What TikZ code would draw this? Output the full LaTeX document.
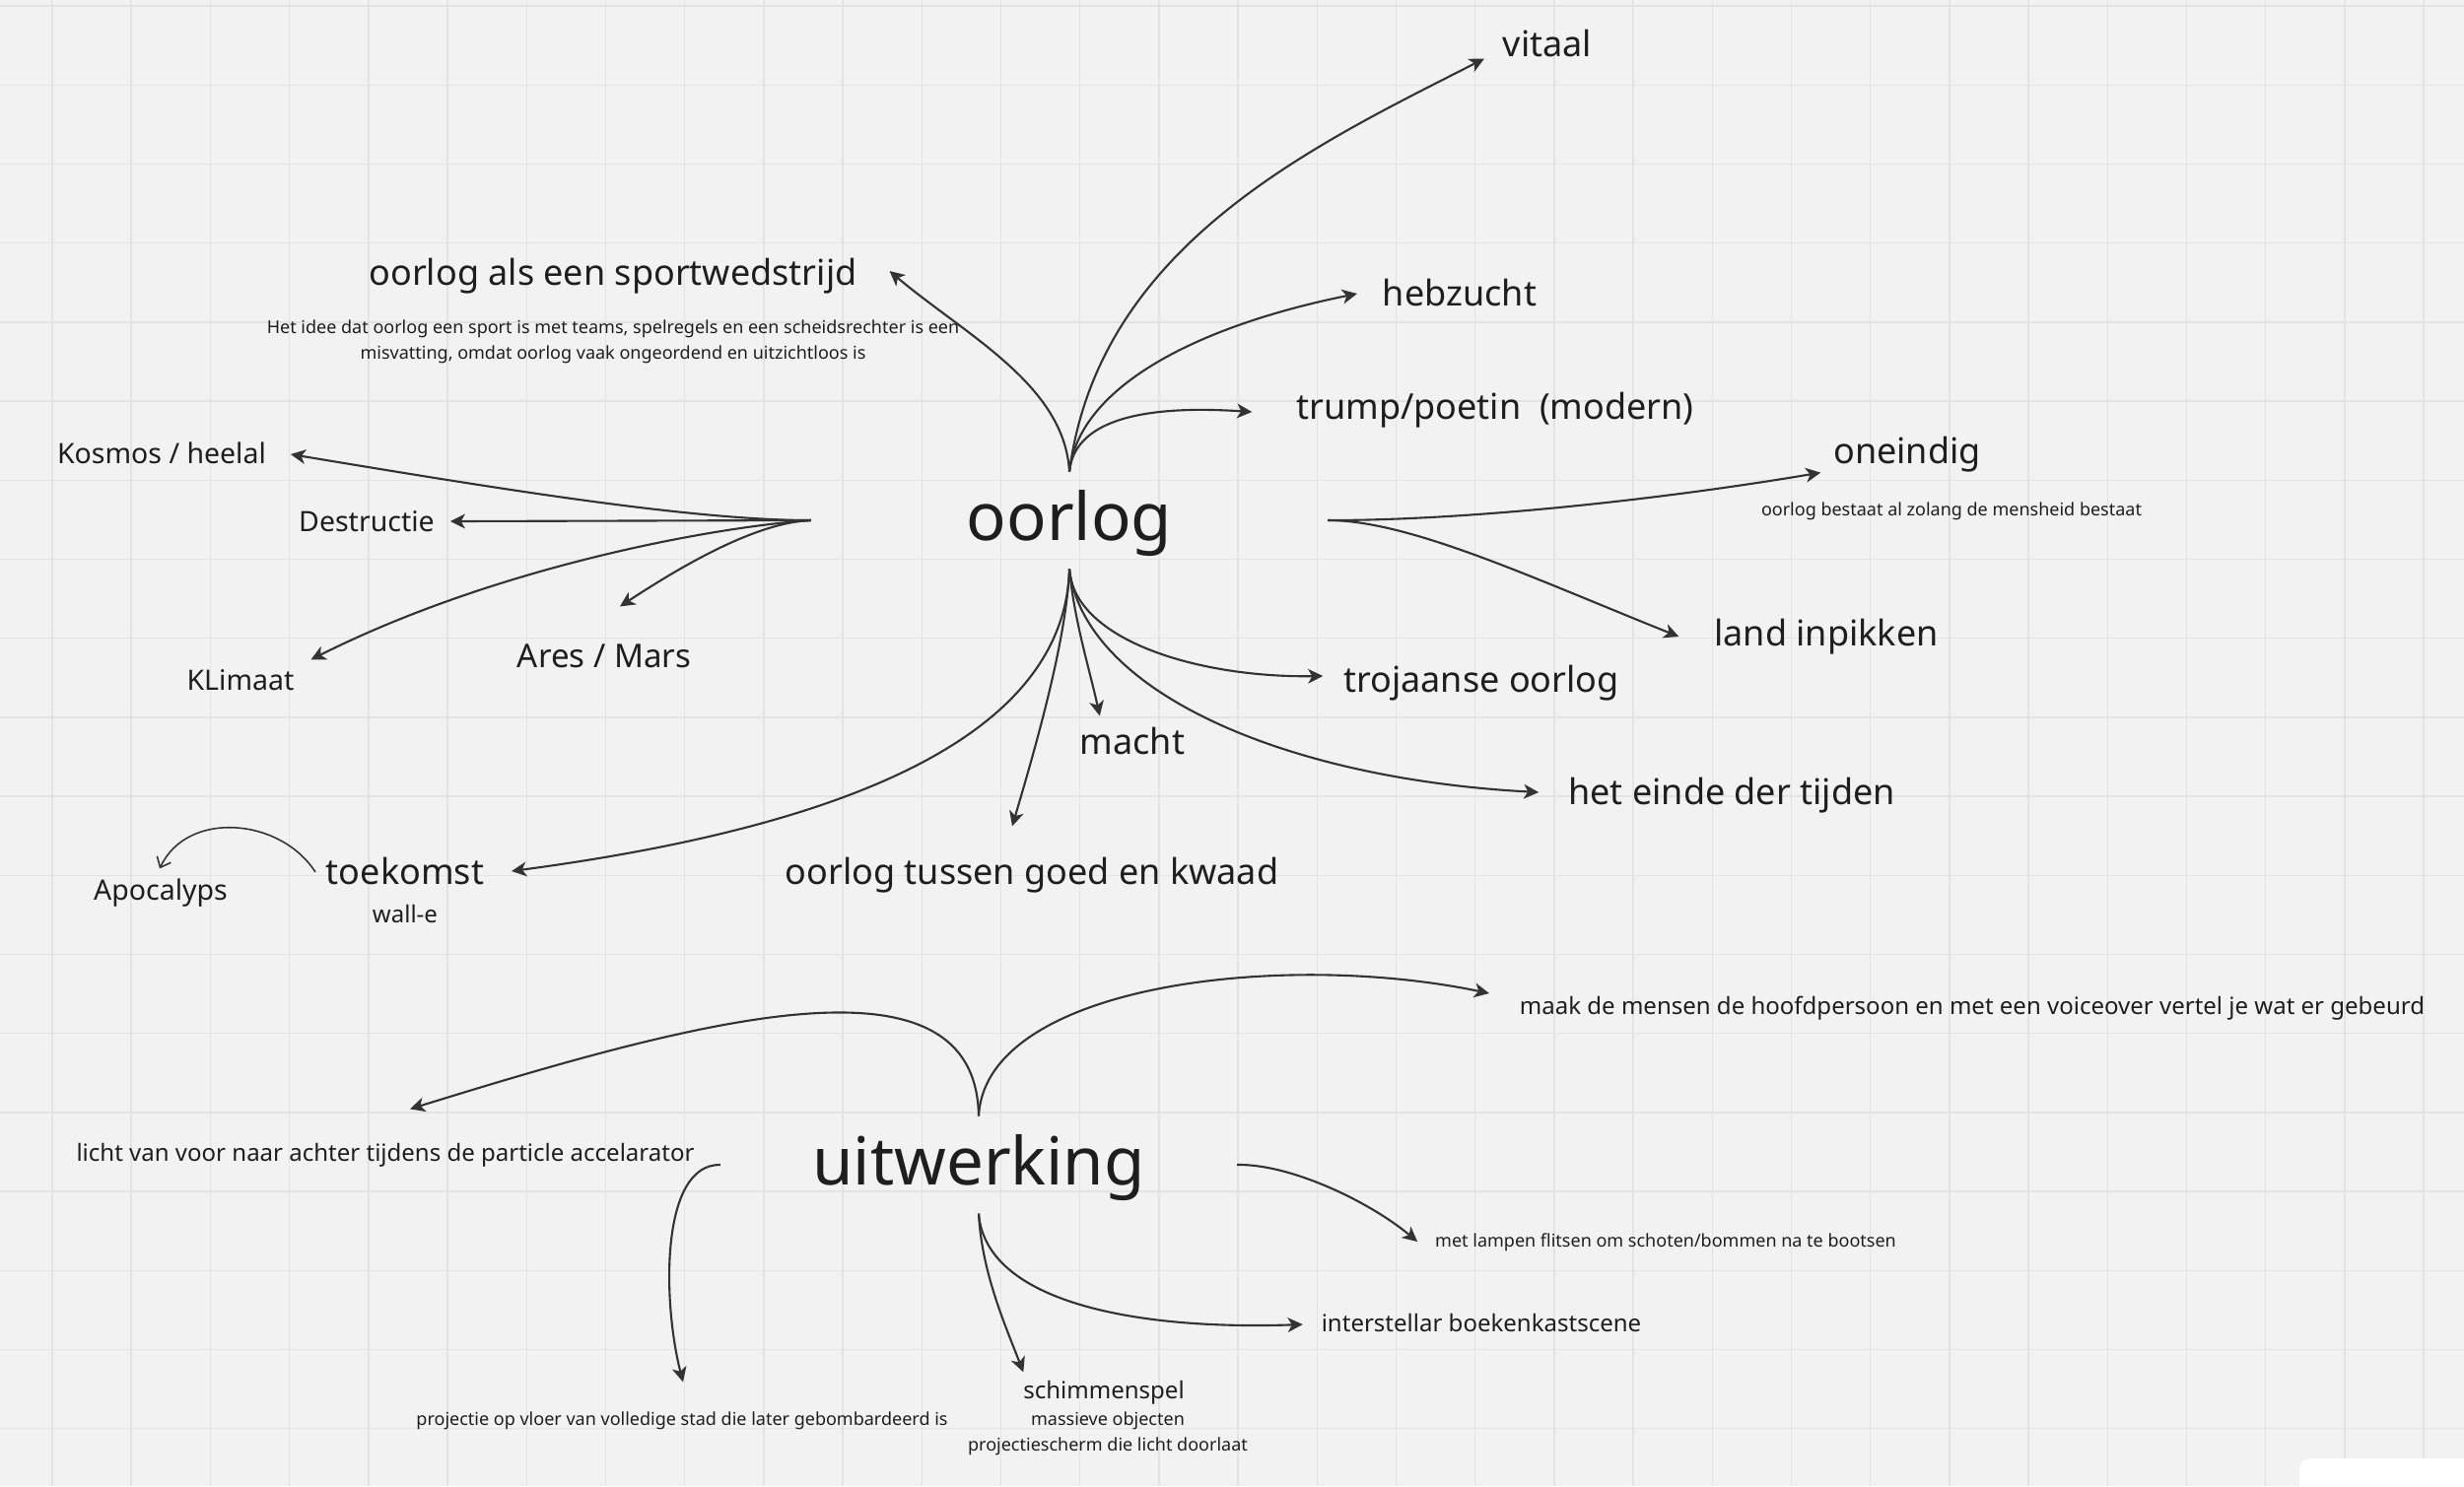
\documentclass[tikz,border=0pt]{standalone}
\usepackage{fontspec}
\setmainfont{Noto Sans}
\usetikzlibrary{arrows.meta}
\definecolor{paper}{HTML}{F2F2F2}
\definecolor{gridc}{HTML}{E3E3E3}
\definecolor{ink}{HTML}{1E1E1E}
\definecolor{wire}{HTML}{333333}
\tikzset{
  txt/.style={inner sep=0pt, outer sep=0pt, text height=0.85em, text depth=0.15em, text=ink},
  hub/.style={txt, minimum width=5.24cm, minimum height=0.99cm, text height=1.25em, text depth=0.09em, font=\fontsize{19.1}{23}\selectfont},
  topic/.style={txt, font=\fontsize{10.24}{12.3}\selectfont},
  item/.style={txt, font=\fontsize{8.1}{9.7}\selectfont},
  idea/.style={txt, font=\fontsize{6.83}{8.2}\selectfont},
  note/.style={txt, font=\fontsize{5.12}{7.1}\selectfont},
  blurb/.style={inner sep=0pt, outer sep=0pt, text=ink, align=center, font=\fontsize{5.12}{7.3}\selectfont},
  flow/.style={-{Stealth[length=4.3pt, width=4.2pt, inset=1.2pt]}, draw=wire, line width=0.6pt},
  sketch/.style={-{Straight Barb[length=2.6pt, width=4.4pt]}, draw=wire, line width=0.45pt},
  gridline/.style={draw=gridc, line width=0.4pt},
}
\begin{document}
\begin{tikzpicture}[x=0.01cm, y=-0.01cm]
    \useasboundingbox (0,0) rectangle (2500,1508);
    \clip (0,0) rectangle (2500,1508);
    \fill[paper] (0,0) rectangle (2500,1508);
    \foreach \gx in {0,...,30} \draw[gridline] ({53+80.2*\gx},0) -- ++(0,1508);
    \foreach \gy in {0,...,18} \draw[gridline] (0,{6+80.2*\gy}) -- ++(2500,0);
    \fill[white, rounded corners=3pt] (2333,1480) rectangle (2560,1560);

    \node[hub] (oorlog) at (1085,528) {oorlog};
    \node[topic] (vitaal) at (1570,45) {vitaal};
    \node[topic] (sport) at (622,277) {oorlog als een sportwedstrijd};
    \node[blurb] (sportnote) at (622,347) {Het idee dat oorlog een sport is met teams, spelregels en een scheidsrechter is een\\misvatting, omdat oorlog vaak ongeordend en uitzichtloos is};
    \node[topic] (hebzucht) at (1481,298) {hebzucht};
    \node[topic] (trump) at (1517,413) {trump/poetin\ \ (modern)};
    \node[item] (kosmos) at (164,458) {Kosmos / heelal};
    \node[item] (destructie) at (372,527) {Destructie};
    \node[item] (klimaat) at (244,688) {KLimaat};
    \node[topic, font=\fontsize{9.4}{11.3}\selectfont] (ares) at (613,665) {Ares / Mars};
    \node[topic] (oneindig) at (1935,458) {oneindig};
    \node[note] (oneindignote) at (1980,511) {oorlog bestaat al zolang de mensheid bestaat};
    \node[topic] (land) at (1853,643) {land inpikken};
    \node[topic] (troja) at (1503,690) {trojaanse oorlog};
    \node[topic] (macht) at (1149,753) {macht};
    \node[topic] (einde) at (1757,804) {het einde der tijden};
    \node[topic] (goedkwaad) at (1047,885) {oorlog tussen goed en kwaad};
    \node[topic] (toekomst) at (411,885) {toekomst};
    \node[idea] (walle) at (411,924) {wall-e};
    \node[item] (apocalyps) at (163,901) {Apocalyps};

    \node[hub] (uitwerking) at (993,1182) {uitwerking};
    \node[idea] (maak) at (2001,1017) {maak de mensen de hoofdpersoon en met een voiceover vertel je wat er gebeurd};
    \node[idea] (licht) at (391,1166) {licht van voor naar achter tijdens de particle accelarator};
    \node[note] (lampen) at (1690,1253) {met lampen flitsen om schoten/bommen na te bootsen};
    \node[idea] (interstellar) at (1503,1339) {interstellar boekenkastscene};
    \node[idea] (schimmen) at (1120,1407) {schimmenspel};
    \node[blurb] (schimnote) at (1124,1455) {massieve objecten\\projectiescherm die licht doorlaat};
    \node[note] (vloer) at (692,1434) {projectie op vloer van volledige stad die later gebombardeerd is};

    \draw[flow] (oorlog.north) .. controls +(30,-228) and +(-177,90) .. ([shift={(-19,-3)}]vitaal.south west);
    \draw[flow] (oorlog.north) .. controls +(-5,-88) and +(77,65) .. ([shift={(33,-2)}]sport.east);
    \draw[flow] (oorlog.north) .. controls +(10,-88) and +(-158,32) .. ([shift={(-26,0)}]hebzucht.west);
    \draw[flow] (oorlog.north) .. controls +(5,-48) and +(-121,-8) .. ([shift={(-45,5)}]trump.west);
    \draw[flow] (oorlog.west) .. controls +(-123,0) and +(205,34) .. ([shift={(25,3)}]kosmos.east);
    \draw[flow] (oorlog.west) -- ([shift={(16,2)}]destructie.east);
    \draw[flow] (oorlog.west) .. controls +(-103,7) and +(185,-93) .. ([shift={(17,-1)}]klimaat.north east);
    \draw[flow] (oorlog.west) .. controls +(-53,2) and +(70,-46) .. ([shift={(16,-32)}]ares.north);
    \draw[flow] (oorlog.east) .. controls +(153,0) and +(-148,25) .. ([shift={(-13,4)}]oneindig.south west);
    \draw[flow] (oorlog.east) .. controls +(83,0) and +(-150,-60) .. ([shift={(-36,3)}]land.west);
    \draw[flow] (oorlog.south) .. controls +(5,73) and +(-124,2) .. ([shift={(-21,-4)}]troja.west);
    \draw[flow] (oorlog.south) .. controls +(5,53) and +(-10,-46) .. ([shift={(20,-9)}]macht.north west);
    \draw[flow] (oorlog.south) .. controls +(15,123) and +(-261,-14) .. ([shift={(-30,0)}]einde.west);
    \draw[flow] (oorlog.south) .. controls +(-3,73) and +(23,-78) .. ([shift={(-20,-29)}]goedkwaad.north);
    \draw[flow] (oorlog.south) .. controls +(-5,173) and +(331,-44) .. ([shift={(28,-1)}]toekomst.east);
    \draw[sketch] ([shift={(-11,0)}]toekomst.west) .. controls +(-35,-55) and +(28,-60) .. ([shift={(-1,-2)}]apocalyps.north);

    \draw[flow] (uitwerking.north) .. controls +(7,-133) and +(-211,-44) .. ([shift={(-31,-9)}]maak.west);
    \draw[flow] (uitwerking.north) .. controls +(-3,-173) and +(300,-93) .. ([shift={(25,-23)}]licht.north);
    \draw[flow] (uitwerking.east) .. controls +(55,-1) and +(-48,-40) .. ([shift={(-18,7)}]lampen.west);
    \draw[flow] (uitwerking.south) .. controls +(7,89) and +(-172,6) .. ([shift={(-19,5)}]interstellar.west);
    \draw[flow] (uitwerking.south) .. controls +(3,59) and +(-19,-49) .. ([shift={(0,3)}]schimmen.north west);
    \draw[flow] (uitwerking.west) .. controls +(-61,-1) and +(-21,-82) .. ([shift={(1,-14)}]vloer.north);
  \end{tikzpicture}
\end{document}
